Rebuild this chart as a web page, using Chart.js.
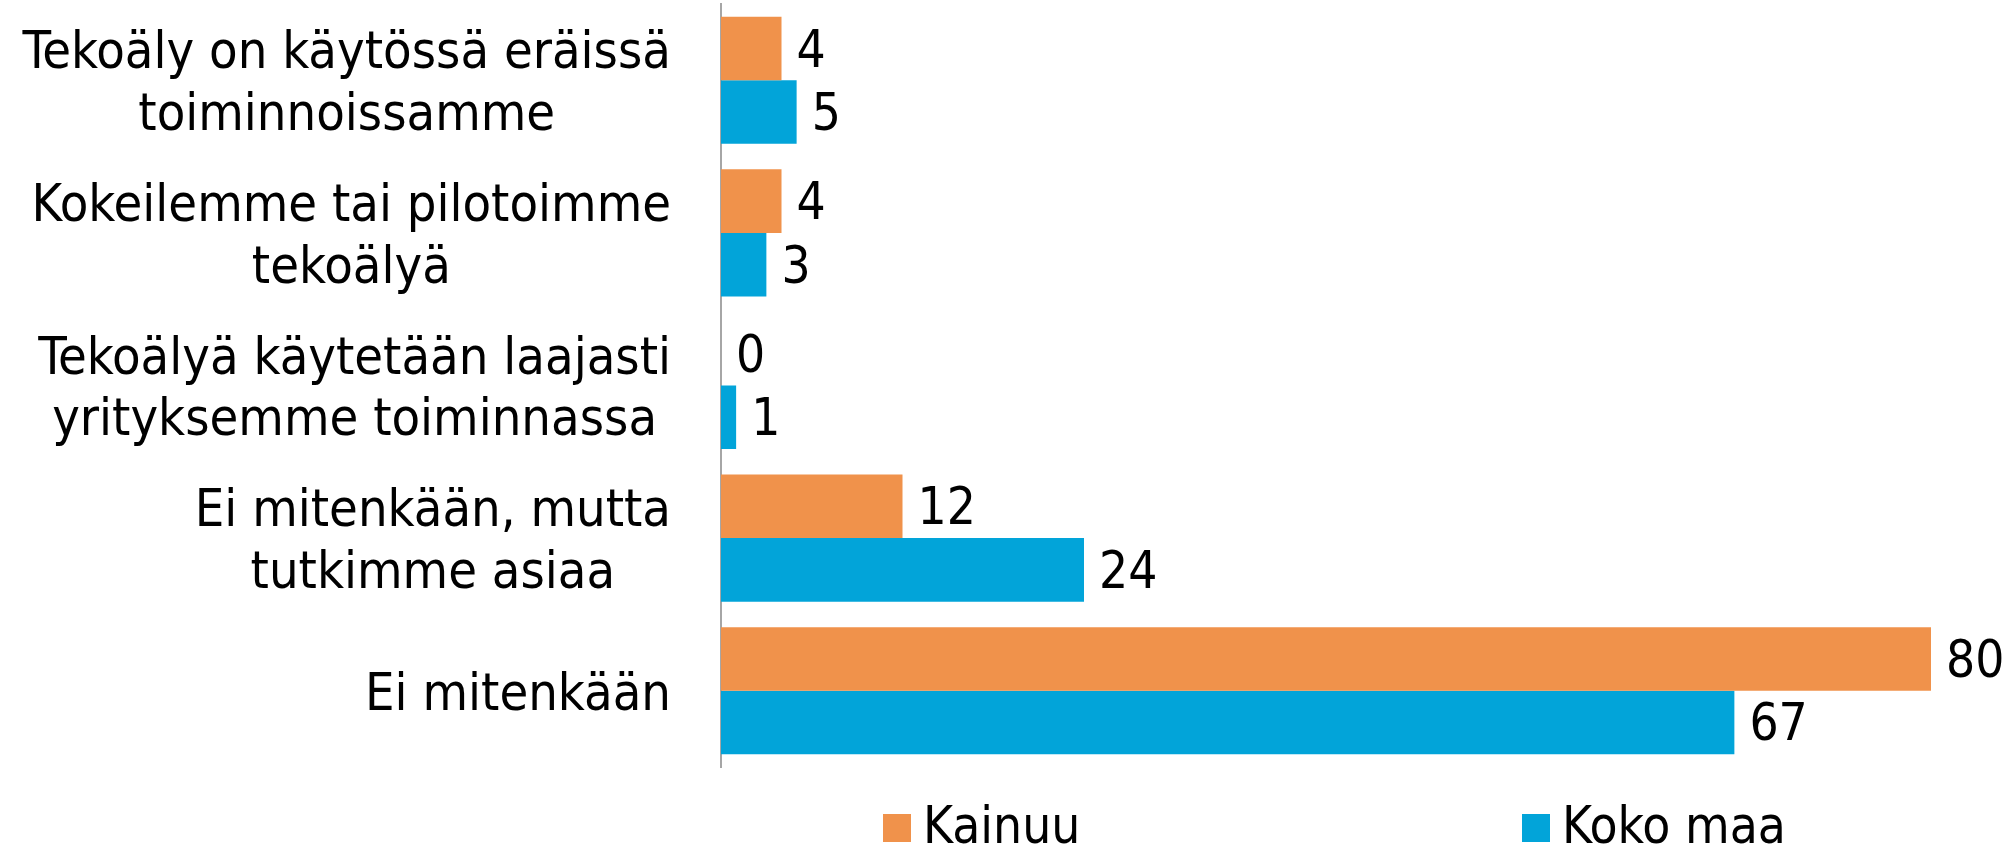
<!DOCTYPE html>
<html>
<head>
<meta charset="utf-8">
<script src="https://cdn.jsdelivr.net/npm/chart.js@4.4.1/dist/chart.umd.min.js"></script>
<style>
  html, body { margin: 0; padding: 0; background: #fff; }
  #wrap { width: 2011px; height: 847px; }
</style>
</head>
<body>
<div id="wrap"><canvas id="chart"></canvas></div>
<script>
const categories = [
  ['Tekoäly on käytössä eräissä', 'toiminnoissamme'],
  ['Kokeilemme tai pilotoimme', 'tekoälyä'],
  ['Tekoälyä käytetään laajasti', 'yrityksemme toiminnassa'],
  ['Ei mitenkään, mutta', 'tutkimme asiaa'],
  ['Ei mitenkään']
];
const seriesNames = ['Kainuu', 'Koko maa'];
const kainuu = [4, 4, 0, 12, 80];
const kokoMaa = [5, 3, 1, 24, 67];
const colors = ['#F0924B', '#02A4D9'];

const FONT = '"DejaVu Sans Condensed", "DejaVu Sans", sans-serif';

// category labels (right aligned block, centred lines), value labels and legend
const textPlugin = {
  id: 'textPlugin',
  afterDatasetsDraw(chart) {
    const ctx = chart.ctx;
    const area = chart.chartArea;
    const yScale = chart.scales.y;
    ctx.save();
    ctx.fillStyle = '#000';
    ctx.textBaseline = 'alphabetic';

    ctx.font = '52px ' + FONT;
    ctx.textAlign = 'center';
    const capH = 38, lineH = 61.7, right = area.left - 50;
    categories.forEach((lines, i) => {
      const cy = yScale.getPixelForValue(i);
      const w = Math.max(...lines.map(l => ctx.measureText(l).width));
      const cx = right - w / 2;
      const total = (lines.length - 1) * lineH + capH;
      const base = cy - total / 2 + capH;
      lines.forEach((l, k) => ctx.fillText(l, cx, base + k * lineH));
    });

    ctx.font = '51px ' + FONT;
    ctx.textAlign = 'left';
    chart.data.datasets.forEach((ds, d) => {
      chart.getDatasetMeta(d).data.forEach((bar, i) => {
        ctx.fillText(String(ds.data[i]), bar.x + 15, bar.y + 18);
      });
    });

    // legend
    const legendX = [area.left + 162, area.left + 801];
    chart.data.datasets.forEach((ds, d) => {
      const bx = legendX[d];
      ctx.fillStyle = ds.backgroundColor;
      ctx.fillRect(bx, area.bottom + 47, 28, 28);
      ctx.fillStyle = '#000';
      ctx.fillText(ds.label, bx + 40, area.bottom + 76);
    });
    ctx.restore();
  }
};

new Chart(document.getElementById('chart'), {
  type: 'bar',
  data: {
    labels: categories,
    datasets: [
      { label: seriesNames[0], data: kainuu, backgroundColor: colors[0] },
      { label: seriesNames[1], data: kokoMaa, backgroundColor: colors[1] }
    ]
  },
  options: {
    indexAxis: 'y',
    responsive: true,
    maintainAspectRatio: false,
    animation: false,
    categoryPercentage: 0.833,
    barPercentage: 1.0,
    layout: { padding: { left: 721, right: 80, top: 4, bottom: 80 } },
    plugins: {
      legend: { display: false },
      tooltip: { enabled: false }
    },
    scales: {
      x: { display: false, min: 0, max: 80 },
      y: {
        ticks: { display: false },
        grid: { display: false, drawTicks: false },
        border: { display: true, color: '#A6A6A6', width: 2 }
      }
    }
  },
  plugins: [textPlugin]
});
</script>
</body>
</html>
